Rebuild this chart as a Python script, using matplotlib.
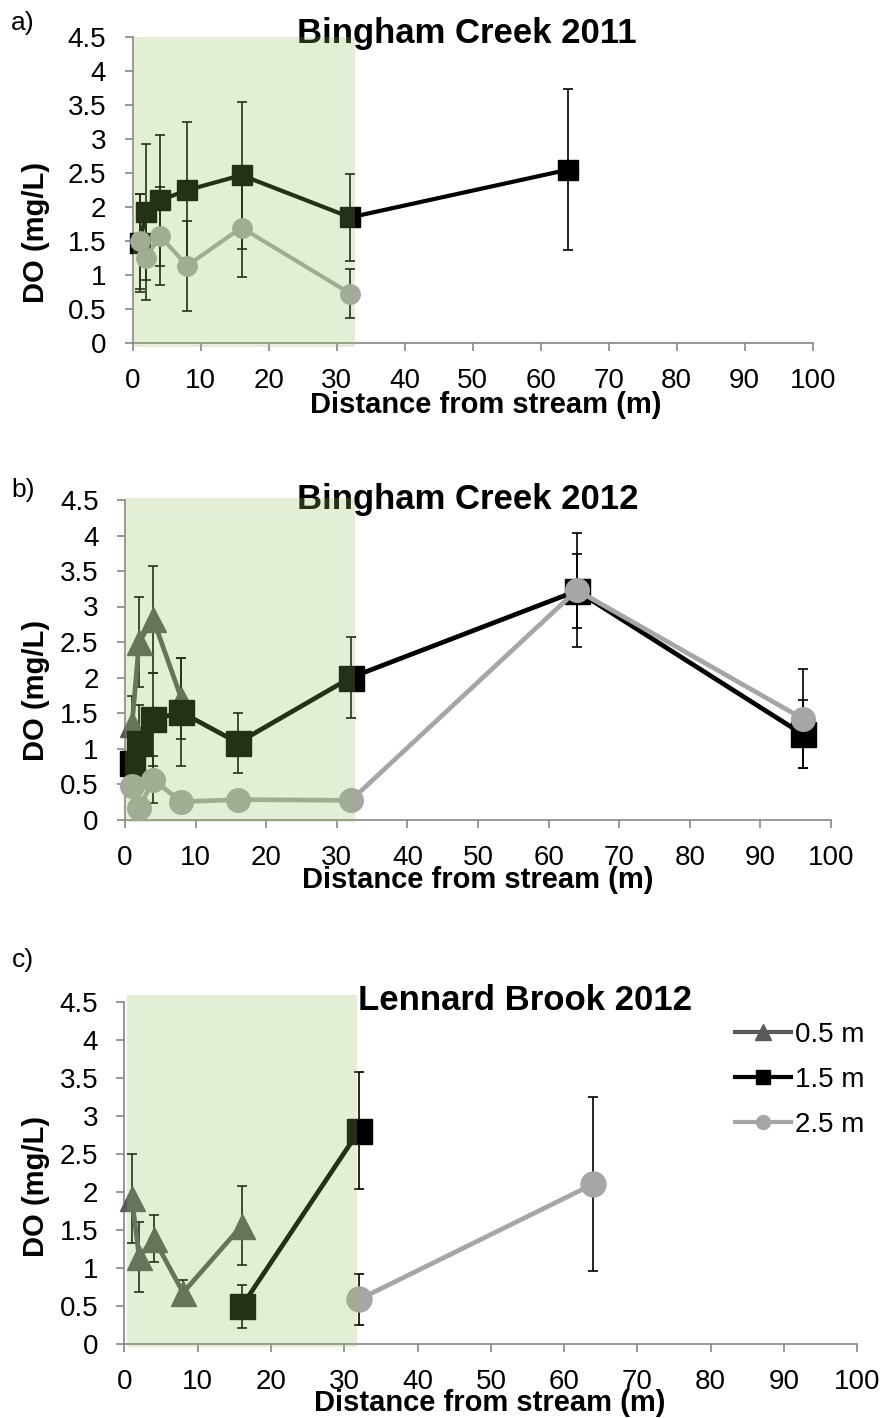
import matplotlib.pyplot as plt
from matplotlib.patches import Rectangle
from matplotlib.lines import Line2D

plt.rcParams['font.family'] = ['Liberation Sans', 'DejaVu Sans']

# distances from stream (m)
x_a_15 = [1, 2, 4, 8, 16, 32, 64]
do_a_15 = [1.47, 1.93, 2.1, 2.25, 2.47, 1.85, 2.55]
err_a_15 = [0.72, 1.0, 0.96, 1.0, 1.08, 0.64, 1.18]
x_a_25 = [1, 2, 4, 8, 16, 32]
do_a_25 = [1.5, 1.26, 1.58, 1.14, 1.7, 0.73]
err_a_25 = [0.7, 0.62, 0.72, 0.66, 0.72, 0.36]

x_b_05 = [1, 2, 4, 8]
do_b_05 = [1.34, 2.5, 2.82, 1.7]
err_b_05 = [0.4, 0.63, 0.75, 0.57]
x_b_15 = [1, 2, 4, 8, 16, 32, 64, 96]
do_b_15 = [0.79, 1.08, 1.41, 1.51, 1.08, 2.0, 3.22, 1.2]
err_b_15 = [0.3, 0.53, 0.66, 0.76, 0.42, 0.57, 0.52, 0.48]
x_b_25 = [1, 2, 4, 8, 16, 32, 64, 96]
do_b_25 = [0.47, 0.16, 0.56, 0.25, 0.28, 0.27, 3.23, 1.42]
err_b_25 = [0.1, 0.08, 0.33, 0.05, 0.05, 0.05, 0.8, 0.7]

x_c_05 = [1, 2, 4, 8, 16]
do_c_05 = [1.92, 1.15, 1.39, 0.68, 1.56]
err_c_05 = [0.59, 0.46, 0.31, 0.17, 0.52]
x_c_15 = [16, 32]
do_c_15 = [0.5, 2.81]
err_c_15 = [0.28, 0.77]
x_c_25 = [32, 64]
do_c_25 = [0.59, 2.11]
err_c_25 = [0.34, 1.15]

depth_labels = ['0.5 m', '1.5 m', '2.5 m']
col_05 = '#595959'
col_15 = '#000000'
col_25 = '#a6a6a6'
shade = (0.58, 0.77, 0.36)
axcol = '#868686'

W, H = 886, 1418
fig = plt.figure(figsize=(W / 100, H / 100), dpi=100)


def fx(px):
    return px / W


def fy(py):
    return 1 - py / H


def panel(rect, shade_x, shade_y):
    ax = fig.add_axes(rect)
    ax.set_xlim(0, 100)
    ax.set_ylim(0, 4.5)
    ax.set_xticks(range(0, 101, 10))
    ax.set_yticks([0, 0.5, 1, 1.5, 2, 2.5, 3, 3.5, 4, 4.5])
    ax.set_yticklabels(['0', '0.5', '1', '1.5', '2', '2.5', '3', '3.5', '4', '4.5'])
    for s in ['top', 'right']:
        ax.spines[s].set_visible(False)
    for s in ['left', 'bottom']:
        ax.spines[s].set_color(axcol)
        ax.spines[s].set_linewidth(1.2)
    ax.tick_params(axis='both', colors=axcol, labelcolor='black', length=6,
                   width=1.2, labelsize=20)
    ax.tick_params(axis='x', pad=12)
    ax.tick_params(axis='y', pad=13)
    ax.add_patch(Rectangle((shade_x[0], shade_y[0]), shade_x[1] - shade_x[0],
                           shade_y[1] - shade_y[0], facecolor=shade, alpha=0.255,
                           edgecolor='none', zorder=10, clip_on=False))
    return ax


def series(ax, x, y, e, color, marker, ms, lw):
    ax.errorbar(x, y, yerr=e, fmt='none', ecolor='black', elinewidth=1.2,
                capsize=3.6, capthick=1.2, zorder=2)
    ax.plot(x, y, color=color, marker=marker, markersize=ms, linewidth=lw,
            clip_on=False, zorder=3)


def labels(ax, tag, tag_y, title, title_xy, xlab_xy, ylab_xy):
    kw = dict(transform=fig.transFigure, ha='center', va='center', zorder=5)
    ax.text(fx(23), fy(tag_y), tag, fontsize=19, **kw)
    ax.text(fx(title_xy[0]), fy(title_xy[1]), title, fontsize=25,
            fontweight='bold', **kw)
    ax.text(fx(xlab_xy[0]), fy(xlab_xy[1]), 'Distance from stream (m)',
            fontsize=21, fontweight='bold', **kw)
    ax.text(fx(ylab_xy[0]), fy(ylab_xy[1]), 'DO (mg/L)', fontsize=21,
            fontweight='bold', rotation=90, **kw)


# a) Bingham Creek 2011
ax_a = panel([fx(132.7), fy(343.3), fx(812.7) - fx(132.7), (343.3 - 37) / H],
             (0.1, 32.7), (-0.05, 4.5))
series(ax_a, x_a_15, do_a_15, err_a_15, col_15, 's', 14.5, 3.0)
series(ax_a, x_a_25, do_a_25, err_a_25, col_25, 'o', 14, 3.0)
labels(ax_a, 'a)', 23, 'Bingham Creek 2011', (467, 34), (486, 405), (36, 232))

# b) Bingham Creek 2012
ax_b = panel([fx(125), fy(819.5), fx(831) - fx(125), (819.5 - 500) / H],
             (0.0, 32.6), (-0.03, 4.53))
series(ax_b, x_b_05, do_b_05, err_b_05, col_05, '^', 18, 3.4)
series(ax_b, x_b_15, do_b_15, err_b_15, col_15, 's', 18, 3.4)
series(ax_b, x_b_25, do_b_25, err_b_25, col_25, 'o', 17, 3.4)
labels(ax_b, 'b)', 490, 'Bingham Creek 2012', (468, 500), (478, 880), (36, 690))

# c) Lennard Brook 2012
ax_c = panel([fx(124.5), fy(1344.3), fx(857.3) - fx(124.5), (1344.3 - 1002.3) / H],
             (0.3, 31.7), (-0.03, 4.6))
series(ax_c, x_c_05, do_c_05, err_c_05, col_05, '^', 18, 3.4)
series(ax_c, x_c_15, do_c_15, err_c_15, col_15, 's', 18, 3.4)
series(ax_c, x_c_25, do_c_25, err_c_25, col_25, 'o', 18, 3.4)
labels(ax_c, 'c)', 960, 'Lennard Brook 2012', (525, 1000), (490, 1403), (36, 1186))

handles = [Line2D([], [], color=col_05, marker='^', markersize=11, linewidth=3),
           Line2D([], [], color=col_15, marker='s', markersize=10, linewidth=3),
           Line2D([], [], color=col_25, marker='o', markersize=10, linewidth=3)]
ax_c.legend(handles, depth_labels, loc='upper left', bbox_to_anchor=(fx(735), fy(1022)),
            bbox_transform=fig.transFigure, frameon=False, fontsize=20,
            handlelength=2.0, handletextpad=0.15, labelspacing=0.68,
            borderpad=0, borderaxespad=0)

fig.savefig('out.png', dpi=100)
